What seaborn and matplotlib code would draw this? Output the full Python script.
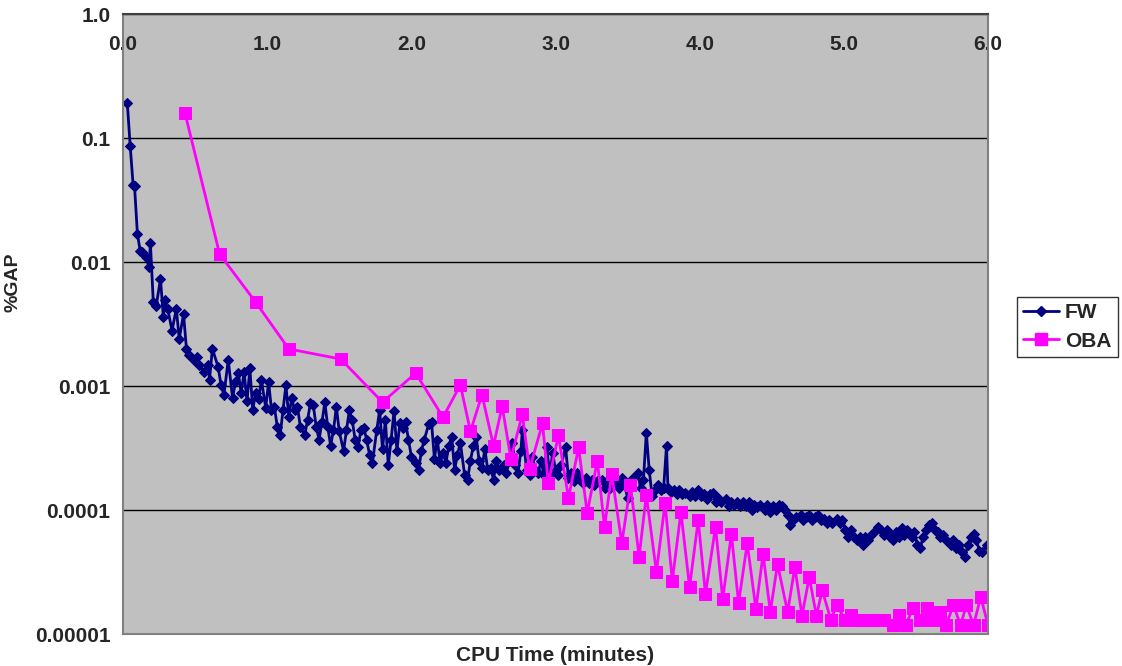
import matplotlib
matplotlib.use("Agg")
import matplotlib.pyplot as plt
import seaborn as sns
import pandas as pd
from matplotlib.lines import Line2D
from matplotlib.ticker import NullLocator

# FW series (CPU minutes, %GAP)
FW_TIME = [
    0.03, 0.05, 0.07, 0.08, 0.10, 0.12, 0.13, 0.16, 0.18, 0.19,
    0.21, 0.23, 0.26, 0.28, 0.29, 0.31, 0.34, 0.37, 0.39, 0.42,
    0.44, 0.46, 0.49, 0.51, 0.53, 0.56, 0.59, 0.60, 0.62, 0.66,
    0.68, 0.70, 0.73, 0.76, 0.78, 0.80, 0.82, 0.84, 0.86, 0.88,
    0.90, 0.92, 0.94, 0.96, 0.99, 1.01, 1.03, 1.05, 1.07, 1.09,
    1.11, 1.13, 1.15, 1.17, 1.19, 1.21, 1.23, 1.26, 1.28, 1.30,
    1.32, 1.34, 1.36, 1.38, 1.40, 1.42, 1.44, 1.46, 1.48, 1.50,
    1.53, 1.55, 1.57, 1.59, 1.61, 1.63, 1.65, 1.67, 1.69, 1.71,
    1.73, 1.76, 1.78, 1.80, 1.82, 1.84, 1.86, 1.88, 1.90, 1.92,
    1.94, 1.96, 1.98, 2.00, 2.03, 2.05, 2.07, 2.09, 2.12, 2.14,
    2.16, 2.18, 2.20, 2.22, 2.24, 2.26, 2.28, 2.30, 2.32, 2.34,
    2.37, 2.39, 2.41, 2.43, 2.45, 2.47, 2.49, 2.51, 2.53, 2.55,
    2.57, 2.59, 2.61, 2.64, 2.66, 2.68, 2.70, 2.72, 2.74, 2.76,
    2.77, 2.80, 2.82, 2.84, 2.86, 2.88, 2.90, 2.92, 2.94, 2.96,
    2.98, 3.00, 3.02, 3.04, 3.07, 3.09, 3.11, 3.13, 3.15, 3.17,
    3.19, 3.21, 3.23, 3.25, 3.27, 3.29, 3.32, 3.34, 3.36, 3.38,
    3.40, 3.42, 3.44, 3.46, 3.48, 3.50, 3.52, 3.54, 3.57, 3.59,
    3.61, 3.63, 3.65, 3.67, 3.69, 3.71, 3.73, 3.75, 3.77, 3.78,
    3.80, 3.82, 3.84, 3.86, 3.88, 3.90, 3.93, 3.95, 3.97, 3.99,
    4.01, 4.03, 4.05, 4.07, 4.09, 4.11, 4.13, 4.15, 4.18, 4.20,
    4.22, 4.24, 4.26, 4.28, 4.30, 4.32, 4.34, 4.36, 4.38, 4.40,
    4.42, 4.45, 4.47, 4.49, 4.51, 4.53, 4.55, 4.57, 4.59, 4.61,
    4.63, 4.65, 4.67, 4.70, 4.72, 4.74, 4.76, 4.78, 4.80, 4.82,
    4.84, 4.86, 4.88, 4.90, 4.92, 4.95, 4.97, 4.99, 5.01, 5.03,
    5.05, 5.07, 5.09, 5.11, 5.13, 5.15, 5.17, 5.19, 5.22, 5.24,
    5.26, 5.28, 5.30, 5.32, 5.34, 5.36, 5.38, 5.40, 5.42, 5.44,
    5.47, 5.49, 5.51, 5.53, 5.55, 5.57, 5.59, 5.61, 5.63, 5.65,
    5.67, 5.69, 5.71, 5.74, 5.76, 5.78, 5.80, 5.82, 5.84, 5.86,
    5.88, 5.90, 5.92, 5.94, 5.96, 5.99, 6.01,
]
FW_GAP = [
    0.19, 0.086, 0.042, 0.041, 0.0168, 0.0122, 0.012, 0.011, 0.0091, 0.0142,
    0.0048, 0.0044, 0.0073, 0.0036, 0.0049, 0.0042, 0.0028, 0.0042, 0.0024, 0.0038,
    0.0020, 0.00178, 0.00162, 0.0017, 0.00148, 0.0013, 0.00148, 0.00112, 0.0020, 0.00142,
    0.00102, 0.00085, 0.00162, 0.00080, 0.00107, 0.00127, 0.00088, 0.0013, 0.00075, 0.00139,
    0.00064, 0.00088, 0.00078, 0.00112, 0.00067, 0.00108, 0.00064, 0.00068, 0.00047, 0.00040,
    0.00064, 0.00102, 0.00056, 0.00080, 0.00064, 0.00068, 0.00047, 0.00040, 0.00053, 0.00073,
    0.00070, 0.00047, 0.00037, 0.00051, 0.00074, 0.00047, 0.00033, 0.00044, 0.00068, 0.00043,
    0.00030, 0.00044, 0.00064, 0.00053, 0.00037, 0.00032, 0.00044, 0.00046, 0.00037, 0.00028,
    0.00024, 0.00044, 0.00064, 0.00031, 0.00053, 0.00023, 0.00037, 0.00063, 0.00030, 0.00050,
    0.00046, 0.00051, 0.00037, 0.00027, 0.00024, 0.00021, 0.00030, 0.00037, 0.00049, 0.00051,
    0.00026, 0.00037, 0.00024, 0.00029, 0.00024, 0.00033, 0.00039, 0.00021, 0.00028, 0.00035,
    0.00019, 0.000175, 0.00025, 0.00033, 0.00039, 0.00025, 0.00022, 0.00031, 0.00021, 0.00022,
    0.000175, 0.00025, 0.00021, 0.00023, 0.00020, 0.00025, 0.00035, 0.00023, 0.00020, 0.00030,
    0.00044, 0.00021, 0.00019, 0.00027, 0.00021, 0.00020, 0.00025, 0.00019, 0.00032, 0.00019,
    0.00029, 0.00021, 0.00019, 0.00023, 0.00032, 0.00018, 0.00020, 0.00017, 0.00020, 0.000175,
    0.000165, 0.00018, 0.000165, 0.000175, 0.00016, 0.00017, 0.000175, 0.00015, 0.00017, 0.00015,
    0.00016, 0.000175, 0.00015, 0.00018, 0.00016, 0.000125, 0.00015, 0.00018, 0.00020, 0.00015,
    0.000175, 0.00042, 0.00021, 0.00013, 0.000145, 0.00016, 0.000145, 0.00015, 0.00033, 0.00015,
    0.00014, 0.000145, 0.000135, 0.000145, 0.000135, 0.000137, 0.00013, 0.00014, 0.00013, 0.000145,
    0.00013, 0.000135, 0.000122, 0.000135, 0.000137, 0.000115, 0.000125, 0.000115, 0.000122, 0.000108,
    0.000117, 0.00011, 0.000117, 0.000108, 0.000115, 0.000108, 0.000115, 0.0001, 0.00011, 0.000105,
    0.00011, 0.0001, 0.00011, 0.000097, 0.000108, 0.0001, 0.00011, 0.000108, 0.0001, 0.000091,
    0.000076, 0.000083, 0.000087, 0.000091, 0.000083, 0.000087, 0.000091, 0.000083, 0.000087, 0.000091,
    0.000083, 0.000085, 0.000079, 0.000083, 0.000079, 0.000085, 0.000079, 0.000083, 0.000069, 0.000061,
    0.000069, 0.000061, 0.000057, 0.000061, 0.000052, 0.000061, 0.000057, 0.000063, 0.000069, 0.000073,
    0.000069, 0.000063, 0.000069, 0.000061, 0.000057, 0.000067, 0.000061, 0.000071, 0.000063, 0.000069,
    0.000061, 0.000067, 0.000052, 0.000049, 0.000061, 0.000069, 0.000076, 0.000079, 0.000069, 0.000067,
    0.000061, 0.000063, 0.000057, 0.000052, 0.000057, 0.000049, 0.000052, 0.000046, 0.000042, 0.000052,
    0.000061, 0.000064, 0.000057, 0.000047, 0.000046, 0.000052, 0.00005,
]

# OBA series
OBA_TIME = [
    0.43, 0.67, 0.92, 1.15, 1.51, 1.80, 2.03, 2.22, 2.34, 2.41,
    2.49, 2.57, 2.63, 2.69, 2.77, 2.82, 2.91, 2.95, 3.02, 3.09,
    3.16, 3.22, 3.29, 3.34, 3.39, 3.46, 3.52, 3.58, 3.63, 3.70,
    3.76, 3.81, 3.87, 3.93, 3.99, 4.04, 4.11, 4.16, 4.22, 4.27,
    4.33, 4.39, 4.44, 4.49, 4.54, 4.61, 4.66, 4.71, 4.76, 4.81,
    4.85, 4.91, 4.95, 5.01, 5.05, 5.09, 5.14, 5.19, 5.24, 5.28,
    5.34, 5.38, 5.43, 5.48, 5.53, 5.58, 5.62, 5.67, 5.71, 5.76,
    5.81, 5.85, 5.90, 5.95, 6.00, 6.05,
]
OBA_GAP = [
    0.159, 0.0116, 0.00475, 0.00199, 0.00165, 0.00074, 0.00127, 0.00056, 0.00102, 0.00043,
    0.00085, 0.00033, 0.00069, 0.00026, 0.00059, 0.000214, 0.00050, 0.000165, 0.00040, 0.000125,
    0.00032, 0.0000945, 0.00025, 0.000073, 0.000195, 0.000054, 0.000159, 0.000042, 0.000132, 0.0000316,
    0.000114, 0.0000267, 0.0000964, 0.0000239, 0.000083, 0.000021, 0.000073, 0.0000191, 0.000064, 0.0000178,
    0.000054, 0.0000159, 0.0000442, 0.000015, 0.0000367, 0.000015, 0.0000347, 0.000014, 0.0000288, 0.000014,
    0.0000226, 0.000013, 0.0000171, 0.000013, 0.0000142, 0.000013, 0.000013, 0.000013, 0.000013, 0.000013,
    0.0000118, 0.0000142, 0.0000118, 0.0000162, 0.000013, 0.0000162, 0.000013, 0.000015, 0.0000118, 0.0000171,
    0.0000118, 0.0000171, 0.0000118, 0.0000199, 0.0000118, 0.000022,
]

X_TICKS = [0, 1, 2, 3, 4, 5, 6]
X_LABELS = ["0.0", "1.0", "2.0", "3.0", "4.0", "5.0", "6.0"]
Y_TICKS = [1e-5, 1e-4, 1e-3, 1e-2, 1e-1, 1]
Y_LABELS = ["0.00001", "0.0001", "0.001", "0.01", "0.1", "1.0"]

FW_COLOR = "#000080"
OBA_COLOR = "#FF00FF"

sns.set_style("white")
plt.rcParams["font.family"] = ["Liberation Sans", "DejaVu Sans"]
plt.rcParams["font.weight"] = "bold"

fw = pd.DataFrame({"time": FW_TIME, "gap": FW_GAP})
oba = pd.DataFrame({"time": OBA_TIME, "gap": OBA_GAP})

fig = plt.figure(figsize=(11.22, 6.66), dpi=100)
ax = fig.add_axes([123 / 1122, 1 - 634 / 666, 865 / 1122, 620 / 666])
ax.set_facecolor("#C0C0C0")
ax.set_yscale("log")

sns.lineplot(data=fw, x="time", y="gap", color=FW_COLOR, marker="D", markersize=5,
             markeredgecolor=FW_COLOR, linewidth=2, estimator=None, sort=False, ax=ax)
sns.lineplot(data=oba, x="time", y="gap", color=OBA_COLOR, marker="s", markersize=8.5,
             markeredgecolor=OBA_COLOR, linewidth=2, estimator=None, sort=False, ax=ax)

ax.set_xlim(0, 6)
ax.set_ylim(1e-5, 1)
ax.yaxis.set_minor_locator(NullLocator())
ax.set_yticks(Y_TICKS)
ax.set_yticklabels(Y_LABELS)
ax.set_xticks(X_TICKS)
ax.set_xticklabels(X_LABELS)
ax.xaxis.tick_top()
ax.tick_params(axis="x", length=0, pad=-29, labelsize=15)
ax.tick_params(axis="y", length=0, pad=9, labelsize=15)

ax.yaxis.grid(True, color="black", linewidth=1)
ax.xaxis.grid(False)
ax.set_axisbelow(True)
for side, spine in ax.spines.items():
    spine.set_color("#808080")
    spine.set_linewidth(1.5)
ax.spines["top"].set_color("#404040")

ax.set_xlabel("CPU Time (minutes)", fontsize=15, fontweight="bold")
ax.xaxis.set_label_position("bottom")
ax.xaxis.set_label_coords(0.5, -0.019)
ax.set_ylabel("%GAP", fontsize=14, fontweight="bold")
ax.yaxis.set_label_coords(-0.117, 0.568)

handles = [
    Line2D([], [], color=FW_COLOR, marker="D", markersize=5, linewidth=2),
    Line2D([], [], color=OBA_COLOR, marker="s", markersize=8.5, linewidth=2),
]
leg = fig.legend(handles, ["FW", "OBA"], loc="upper left",
                 bbox_to_anchor=(1017 / 1122, 1 - 297 / 666), frameon=True,
                 fancybox=False, edgecolor="black", borderaxespad=0,
                 prop={"size": 15, "weight": "bold"}, handlelength=1.7,
                 borderpad=0.3, labelspacing=0.45, handletextpad=0.3)
leg.get_frame().set_linewidth(1)

fig.savefig("out.png", dpi=100)
